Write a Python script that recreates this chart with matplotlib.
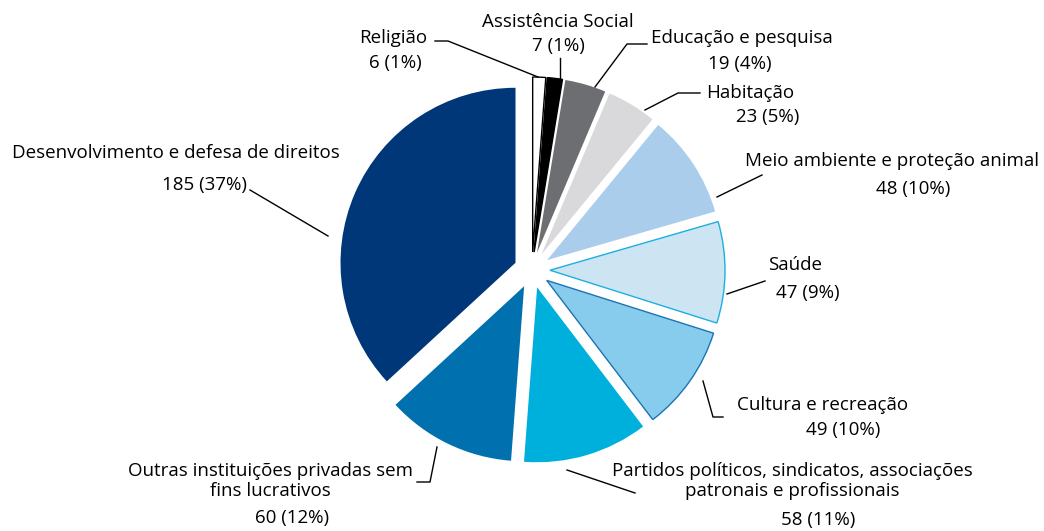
import matplotlib
matplotlib.use("Agg")
import matplotlib.pyplot as plt

W, H = 1044, 531

# dados das organizações (sentido horário a partir do topo)
categorias = ["Religião", "Assistência Social", "Educação e pesquisa", "Habitação",
              "Meio ambiente e proteção animal", "Saúde", "Cultura e recreação",
              "Partidos políticos, sindicatos, associações\npatronais e profissionais",
              "Outras instituições privadas sem\nfins lucrativos",
              "Desenvolvimento e defesa de direitos"]
valores = [6, 7, 19, 23, 48, 47, 49, 58, 60, 185]
percentuais = ["1%", "1%", "4%", "5%", "10%", "9%", "10%", "11%", "12%", "37%"]

cores = ["#ffffff", "#000000", "#6d6e71", "#d9d9db", "#abcdec",
         "#cde4f2", "#87ccec", "#00b0dc", "#0071ae", "#003778"]
bordas = ["#000000", "#000000", "none", "none", "none",
          "#1bb0e0", "#1a75b5", "none", "none", "none"]

plt.rcParams["font.family"] = ["Open Sans", "DejaVu Sans"]

fig = plt.figure(figsize=(W / 100, H / 100), dpi=100)
ax = fig.add_axes([0, 0, 1, 1])


def py(y):
    return H - y


cx, cy, r = 532, 270, 175
# explode em unidades absolutas (pixels)
wedges, _ = ax.pie(valores, colors=cores, startangle=90, counterclock=False,
                   center=(cx, py(cy)), radius=r, explode=[18] * len(valores),
                   frame=True)
for w, b in zip(wedges, bordas):
    if b == "none":
        w.set_edgecolor("none")
    else:
        w.set_edgecolor(b)
        w.set_linewidth(1.0)
ax.set_xlim(0, W)
ax.set_ylim(0, H)
ax.set_aspect("equal")
ax.axis("off")

fs = 13.5

# (x, y, alinhamento) do nome, (x, y) do valor, linha de chamada
rotulos = [
    ((393, 38, "center"), (395, 63), [(435, 41), (448, 41), (538, 77)]),
    ((558, 22, "center"), (558, 46), [(560, 58), (560, 78)]),
    ((651, 38, "left"), (740, 64), [(647, 44), (627, 44), (595, 87)]),
    ((706, 93, "left"), (768, 117), [(700, 93), (678, 93), (645, 110)]),
    ((745, 161, "left"), (913, 189), [(762, 175), (717, 197)]),
    ((768, 265, "left"), (808, 293), [(765, 281), (727, 294)]),
    ((737, 405, "left"), (843, 430), [(723, 417), (713, 417), (703, 381)]),
    ((792, 481, "center"), (818, 520), [(635, 493), (567, 470)]),
    ((270, 481, "center"), (292, 518), [(417, 482), (430, 482), (437, 447)]),
    ((12, 153, "left"), (204, 185), [(250, 190), (328, 236)]),
]

for nome, v, p, (nm, vl, linha) in zip(categorias, valores, percentuais, rotulos):
    ax.text(nm[0], py(nm[1]), nome, ha=nm[2], va="center", fontsize=fs,
            linespacing=1.2, color="black")
    ax.text(vl[0], py(vl[1]), f"{v} ({p})", ha="center", va="center",
            fontsize=fs, color="black")
    xs = [q[0] for q in linha]
    ys = [py(q[1]) for q in linha]
    ax.plot(xs, ys, color="black", lw=1.0)

fig.savefig("out.png", dpi=100)
